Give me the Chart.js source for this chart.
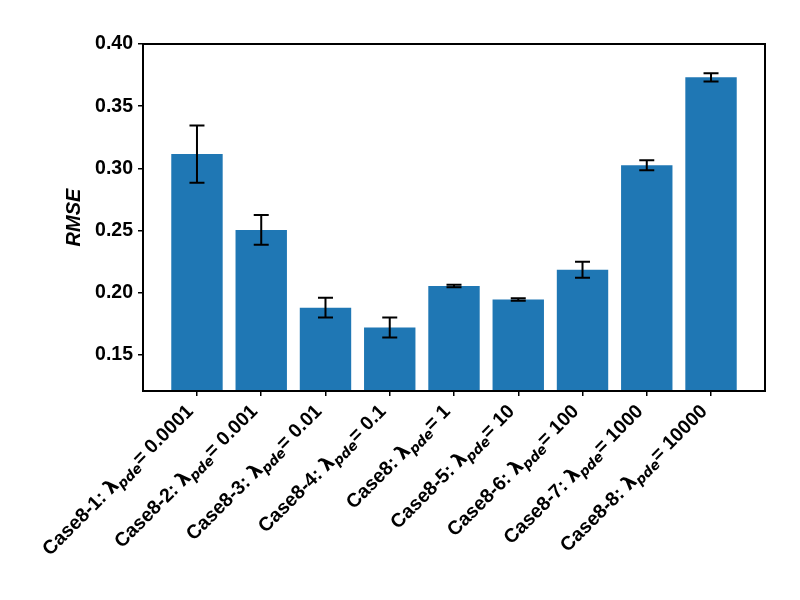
<!DOCTYPE html>
<html>
<head>
<meta charset="utf-8">
<script src="https://cdn.jsdelivr.net/npm/chart.js@4"></script>
<style>
  html, body { margin: 0; padding: 0; background: #fff; }
  #wrap { width: 800px; height: 600px; }
</style>
</head>
<body>
<div id="wrap"><canvas id="chart" width="800" height="600"></canvas></div>
<script>
// Data
const categories = ['Case8-1', 'Case8-2', 'Case8-3', 'Case8-4', 'Case8', 'Case8-5', 'Case8-6', 'Case8-7', 'Case8-8'];
const lambdaValues = ['0.0001', '0.001', '0.01', '0.1', '1', '10', '100', '1000', '10000'];
const rmse = [0.3115, 0.2505, 0.188, 0.172, 0.2055, 0.1945, 0.2185, 0.3025, 0.3732];
const rmseErr = [0.023, 0.012, 0.008, 0.008, 0.001, 0.001, 0.0065, 0.004, 0.0033];
const yTicks = [0.15, 0.20, 0.25, 0.30, 0.35, 0.40];

const SANS = "'Liberation Sans', Arial, sans-serif";
const MATH = "'DejaVu Sans', sans-serif";

// Error bars with caps
const errorBars = {
    id: 'errorBars',
    afterDatasetsDraw(chart) {
        const { ctx, scales: { x, y } } = chart;
        ctx.save();
        ctx.strokeStyle = '#000';
        ctx.lineWidth = 2;
        rmse.forEach((v, i) => {
            const px = x.getPixelForValue(i);
            const top = y.getPixelForValue(v + rmseErr[i]);
            const bot = y.getPixelForValue(v - rmseErr[i]);
            ctx.beginPath();
            ctx.moveTo(px, top); ctx.lineTo(px, bot);
            ctx.moveTo(px - 7.5, top); ctx.lineTo(px + 7.5, top);
            ctx.moveTo(px - 7.5, bot); ctx.lineTo(px + 7.5, bot);
            ctx.stroke();
        });
        ctx.restore();
    }
};

// Frame around the plot and rotated x labels with the lambda_pde subscript
const frameAndLabels = {
    id: 'frameAndLabels',
    afterDraw(chart) {
        const { ctx, chartArea: a, scales: { x } } = chart;
        ctx.save();
        ctx.strokeStyle = '#000';
        ctx.lineWidth = 2;
        ctx.strokeRect(a.left, a.top, a.right - a.left, a.bottom - a.top);

        ctx.fillStyle = '#000';
        ctx.textBaseline = 'alphabetic';
        ctx.textAlign = 'left';
        categories.forEach((c, i) => {
            const parts = [
                { t: c + ': ', f: 'bold 19.5px ' + SANS, dy: 0 },
                { t: '\u03bb', f: 'bold 19.5px ' + MATH, dy: 0 },
                { t: 'pde', f: 'italic bold 13.5px ' + MATH, dy: 4 },
                { t: '= ' + lambdaValues[i], f: 'bold 19.5px ' + SANS, dy: 0 }
            ];
            let total = 0;
            parts.forEach(p => { ctx.font = p.f; p.w = ctx.measureText(p.t).width; total += p.w; });
            ctx.save();
            ctx.translate(x.getPixelForValue(i) - 7, a.bottom + 17);
            ctx.rotate(-Math.PI / 4);
            let cx = -total;
            parts.forEach(p => {
                ctx.font = p.f;
                ctx.fillText(p.t, cx, 6 + p.dy);
                cx += p.w;
            });
            ctx.restore();
        });
        ctx.restore();
    }
};

const ctx = document.getElementById('chart').getContext('2d');
new Chart(ctx, {
    type: 'bar',
    data: {
        datasets: [{
            data: rmse.map((v, i) => ({ x: i, y: v })),
            backgroundColor: '#1f77b4',
            borderWidth: 0,
            categoryPercentage: 1.0,
            barPercentage: 0.8
        }]
    },
    options: {
        responsive: false,
        animation: false,
        devicePixelRatio: 1,
        layout: { padding: { left: 0, top: 44, right: 35, bottom: 0 } },
        plugins: {
            legend: { display: false },
            tooltip: { enabled: false }
        },
        scales: {
            x: {
                type: 'linear',
                min: -0.84,
                max: 8.84,
                offset: false,
                afterBuildTicks: s => { s.ticks = categories.map((c, i) => ({ value: i })); },
                afterFit: s => { s.height = 209; },
                ticks: { callback: () => '' },
                border: { display: false },
                grid: { offset: false, drawOnChartArea: false, drawTicks: true, tickLength: 5, color: '#000', lineWidth: 1.5 }
            },
            y: {
                min: 0.121,
                max: 0.40,
                afterBuildTicks: s => { s.ticks = yTicks.map(v => ({ value: v })); },
                afterFit: s => { s.width = 143; },
                ticks: {
                    callback: v => v.toFixed(2),
                    color: '#000',
                    padding: 5,
                    font: { family: SANS, size: 19.5, weight: 'bold' }
                },
                border: { display: false },
                grid: { drawOnChartArea: false, drawTicks: true, tickLength: 5, color: '#000', lineWidth: 1.5 },
                title: {
                    display: true,
                    text: 'RMSE',
                    color: '#000',
                    padding: { top: 62, bottom: 0 },
                    font: { family: SANS, size: 20, weight: 'bold', style: 'italic' }
                }
            }
        }
    },
    plugins: [errorBars, frameAndLabels]
});
</script>
</body>
</html>
